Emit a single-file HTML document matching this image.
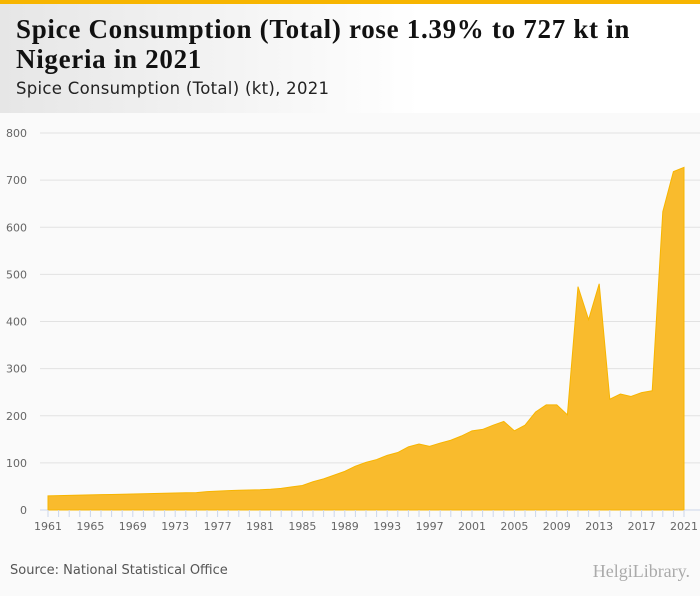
<!DOCTYPE html>
<html><head><meta charset="utf-8"><style>
body{margin:0;width:700px;height:596px;background:#fafafa;font-family:"DejaVu Sans",sans-serif;overflow:hidden;position:relative}
#hdr{position:absolute;left:0;top:0;width:700px;height:113px;background:linear-gradient(90deg,#e6e6e6,#fff 60%)}
#bar{position:absolute;left:0;top:0;width:700px;height:4px;background:#f7b500}
h1{position:absolute;left:16px;top:14px;margin:0;font:bold 27px/30px "Liberation Serif",serif;color:#111;letter-spacing:0.7px;white-space:nowrap}
h2{position:absolute;left:16px;top:79px;margin:0;font:16.5px "DejaVu Sans",sans-serif;color:#222;font-weight:normal;letter-spacing:0.3px}
#src{position:absolute;left:10px;top:563px;font-size:13px;color:#555}
#logo{position:absolute;right:10px;top:561px;font:18px "Liberation Serif",serif;color:#aaa}
</style></head><body>
<div id="hdr"></div>
<div id="bar"></div>
<h1>Spice Consumption (Total) rose 1.39% to 727 kt in<br>Nigeria in 2021</h1>
<h2>Spice Consumption (Total) (kt), 2021</h2>
<svg id="chart" width="700" height="596" style="position:absolute;left:0;top:0"></svg>
<div id="src">Source: National Statistical Office</div>
<div id="logo">HelgiLibrary.</div>
<script>
const years=[];for(let y=1961;y<=2021;y++)years.push(y);
const values=[30,30.5,31,31.5,32,32.5,33,33.5,34,34.5,35,35.5,36,36.5,37,39,40,41,42,42.5,43,44,46,49,52,60,66,74,82,93,101,107,116,122,134,140,135,142,148,157,168,171,180,188,168,180,208,223,223,202,474,404,480,235,246,241,249,253,633,718,727];
const yTicks=[0,100,200,300,400,500,600,700,800];
const xLabels=[1961,1965,1969,1973,1977,1981,1985,1989,1993,1997,2001,2005,2009,2013,2017,2021];
const svg=document.getElementById('chart'),NS='http://www.w3.org/2000/svg';
const x=v=>48+(v-1961)*(684-48)/60, y=v=>510-v*(510-133)/800;
function mk(t,a){const e=document.createElementNS(NS,t);for(const k in a)e.setAttribute(k,a[k]);svg.appendChild(e);return e;}
yTicks.forEach(t=>{
 const g=mk('line',{x1:40,x2:700,y1:y(t),y2:y(t),stroke:t?'#e2e2e2':'#ccd6eb','stroke-width':1});
 
 
 const l=mk('text',{x:27,y:y(t)+4,'text-anchor':'end','font-size':11,fill:'#666','font-family':'DejaVu Sans,sans-serif'});l.textContent=t;
 
 
});
let d='M'+x(years[0])+','+y(0);
years.forEach((yr,i)=>d+=' L'+x(yr)+','+y(values[i]));
d+=' L'+x(years[years.length-1])+','+y(0)+'Z';
const a=mk('path',{d:d,fill:'#f9bb2d',stroke:'#f7b500','stroke-width':1});


years.forEach(yr=>{
 const tk=mk('line',{x1:x(yr),x2:x(yr),y1:510,y2:517,stroke:'#ccd6eb'});
 
 
});
xLabels.forEach(yr=>{
 const l=mk('text',{x:x(yr),y:530,'text-anchor':'middle','font-size':11,fill:'#666','font-family':'DejaVu Sans,sans-serif'});l.textContent=yr;
 
 
});
</script>
</body></html>
